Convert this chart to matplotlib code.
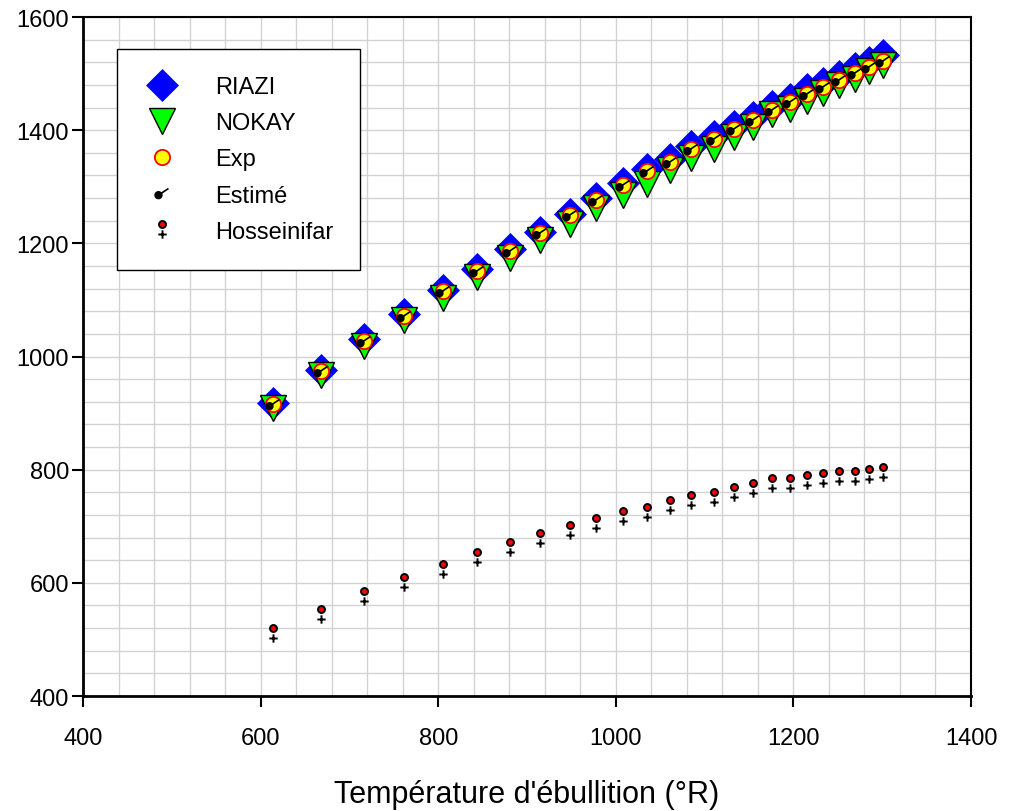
import matplotlib
matplotlib.use('Agg')
import matplotlib.pyplot as plt
from matplotlib.path import Path
from matplotlib.ticker import MultipleLocator

plt.rcParams['font.family'] = ['Liberation Sans', 'DejaVu Sans']

# Boiling temperature (°R)
tb = [614, 668, 717, 762, 805, 844, 881, 915, 948, 978, 1008, 1035, 1061,
      1085, 1111, 1133, 1155, 1176, 1196, 1215, 1233, 1251, 1269, 1285, 1301]

riazi = [918, 977, 1031, 1075, 1118, 1155, 1190, 1220, 1252, 1280, 1306, 1331, 1349,
         1372, 1389, 1408, 1424, 1443, 1456, 1472, 1484, 1496, 1510, 1520, 1533]
nokay = [909, 968, 1019, 1064, 1104, 1141, 1175, 1206, 1235, 1262, 1285, 1305, 1329,
         1350, 1367, 1388, 1406, 1428, 1437, 1451, 1466, 1479, 1490, 1504, 1516]
exp = [916, 975, 1028, 1072, 1115, 1152, 1187, 1218, 1250, 1277, 1303, 1327, 1344,
       1367, 1384, 1402, 1418, 1436, 1449, 1464, 1476, 1488, 1501, 1511, 1523]
estime = [916, 975, 1028, 1072, 1115, 1152, 1187, 1218, 1250, 1277, 1303, 1327, 1344,
          1367, 1384, 1402, 1418, 1436, 1449, 1464, 1476, 1488, 1501, 1511, 1523]
hosseinifar = [511, 545, 576, 601, 625, 645, 663, 679, 693, 706, 718, 726, 738,
               746, 752, 760, 767, 776, 776, 781, 785, 788, 789, 793, 796]

labels = ['RIAZI', 'NOKAY', 'Exp', 'Estimé', 'Hosseinifar']


# composite markers, drawn in point units (markersize = 2 * max extent)
def estime_marker():
    dot = Path.circle(center=(-2.9, -1.2), radius=2.4)
    tail = Path([(-2.9, -1.2), (4.3, 3.6)], [Path.MOVETO, Path.LINETO])
    return Path.make_compound_path(dot, tail)


def hoss_marker():
    dot = Path.circle(center=(0, 3.6), radius=2.5)
    plus = Path([(-3.0, -3.6), (3.0, -3.6), (0, -0.6), (0, -6.6)],
                [Path.MOVETO, Path.LINETO, Path.MOVETO, Path.LINETO])
    return Path.make_compound_path(dot, plus)


fig = plt.figure(figsize=(10.22, 8.12), dpi=100)
ax = fig.add_axes([0.0812, 0.1416, 0.8689, 0.8362])

h1, = ax.plot(tb, riazi, ls='none', marker='D', ms=16, mfc='#0000ff', mec='#0000ff',
              mew=0.5, label=labels[0], zorder=3)
h2, = ax.plot(tb, nokay, ls='none', marker='v', ms=18.5, mfc='#00ff00', mec='black',
              mew=1.0, label=labels[1], zorder=4)
h3, = ax.plot(tb, exp, ls='none', marker='o', ms=11, mfc='#ffff00', mec='#ff0000',
              mew=1.3, label=labels[2], zorder=5)
h4, = ax.plot(tb, estime, ls='none', marker=estime_marker(), ms=10.6, mfc='black',
              mec='black', mew=1.2, label=labels[3], zorder=6)
h5, = ax.plot(tb, hosseinifar, ls='none', marker=hoss_marker(), ms=13.2, mfc='#ff0000',
              mec='black', mew=1.4, label=labels[4], zorder=6)

ax.set_xlim(400, 1400)
ax.set_ylim(400, 1600)
ax.xaxis.set_major_locator(MultipleLocator(200))
ax.yaxis.set_major_locator(MultipleLocator(200))
ax.xaxis.set_minor_locator(MultipleLocator(40))
ax.yaxis.set_minor_locator(MultipleLocator(40))
ax.grid(which='both', color='#d2d2d2', linewidth=1.0, zorder=0)
ax.set_axisbelow(True)

ax.tick_params(which='major', direction='out', length=8, width=1.5, labelsize=17,
               colors='black')
ax.tick_params(axis='x', pad=14)
ax.tick_params(axis='y', pad=2)
ax.tick_params(which='minor', length=0)
for s in ['left', 'bottom']:
    ax.spines[s].set_linewidth(2.0)
for s in ['top', 'right']:
    ax.spines[s].set_linewidth(1.5)

ax.set_xlabel("Température d'ébullition (°R)", fontsize=22)
ax.xaxis.set_label_coords(0.5, -0.122)

leg = ax.legend(handles=[h1, h2, h3, h4, h5], loc='upper left',
                bbox_to_anchor=(0.0383, 0.953), borderaxespad=0, fontsize=17,
                fancybox=False, framealpha=1, edgecolor='black', borderpad=1.15,
                handlelength=1.5, handletextpad=1.5, labelspacing=0.6, numpoints=1)
leg.get_frame().set_linewidth(1.0)

fig.savefig('out.png', dpi=100)
